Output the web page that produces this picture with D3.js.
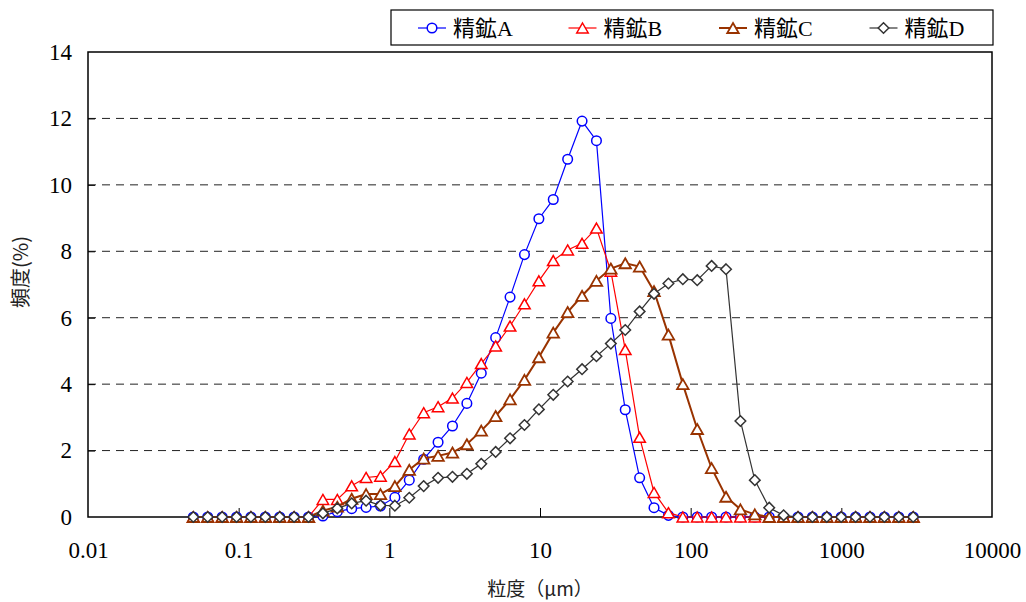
<!DOCTYPE html>
<html><head><meta charset="utf-8">
<script src="https://cdn.jsdelivr.net/npm/d3@7"></script>
<style>body{margin:0;background:#fff}svg{display:block}</style>
</head><body><svg id="c" width="1026" height="602"></svg>
<script>
// particle size classes (µm)
const sizes = [0.0500,0.0623,0.0777,0.0968,0.1206,0.1503,0.1873,0.2333,0.2907,0.3623,
0.4515,0.5626,0.7010,0.8735,1.0885,1.3564,1.6902,2.1062,2.6244,3.2704,
4.0753,5.0783,6.3281,7.8856,9.8283,12.246,15.260,19.016,23.696,29.527,
36.793,45.848,57.132,71.193,88.714,110.55,137.75,171.65,213.90,266.54,
332.14,413.88,515.74,642.67,800.84,997.93,1243.5,1549.6,1931.0,2406.3,3000];
const seriesNames = ["精鉱A","精鉱B","精鉱C","精鉱D"];
const valuesA = [0,0,0,0,0,0,0,0,0,0.03,0.16,0.25,0.29,0.33,0.59,1.11,1.74,2.25,2.74,3.42,
4.33,5.40,6.62,7.90,8.98,9.56,10.77,11.92,11.33,5.98,3.23,1.18,0.28,0.05,0,0,0,0,0,0,
0,0,0,0,0,0,0,0,0,0,0];
const valuesB = [0,0,0,0,0,0,0,0,0,0.53,0.53,0.94,1.19,1.23,1.67,2.50,3.14,3.32,3.58,4.05,
4.62,5.15,5.75,6.42,7.11,7.72,8.04,8.24,8.70,7.40,5.04,2.40,0.74,0.13,0,0,0,0,0,0,
0,0,0,0,0,0,0,0,0,0,0];
const valuesC = [0,0,0,0,0,0,0,0,0,0.19,0.31,0.55,0.69,0.69,0.93,1.42,1.76,1.84,1.94,2.19,
2.60,3.04,3.54,4.13,4.81,5.55,6.17,6.66,7.11,7.48,7.64,7.54,6.80,5.49,4.00,2.65,1.47,0.61,0.23,0.08,
0,0,0,0,0,0,0,0,0,0,0];
const valuesD = [0,0,0,0,0,0,0,0,0,0.11,0.26,0.41,0.49,0.35,0.34,0.58,0.93,1.18,1.21,1.30,
1.60,1.96,2.37,2.77,3.24,3.68,4.08,4.45,4.84,5.22,5.63,6.19,6.72,7.03,7.16,7.13,7.56,7.46,2.89,1.11,
0.28,0.05,0,0,0,0,0,0,0,0,0];
const xTicks = [0.01,0.1,1,10,100,1000,10000];
const xTickLabels = ["0.01","0.1","1","10","100","1000","10000"];
const yTicks = [0,2,4,6,8,10,12,14];
const xTitle = "粒度（μm）";
const yTitle = "頻度(%)";

const svg = d3.select("#c");
const L=88,R=992,T=52,B=517;
const x = d3.scaleLog().domain([0.01,10000]).range([L,R]);
const y = d3.scaleLinear().domain([0,14]).range([B,T]);
const numFont = "'Liberation Serif','Noto Sans CJK JP',serif";

// gridlines
svg.append("g").selectAll("line").data(yTicks.filter(v=>v>0&&v<14)).join("line")
  .attr("x1",L).attr("x2",R).attr("y1",d=>y(d)).attr("y2",d=>y(d))
  .attr("stroke","#222").attr("stroke-width",1).attr("stroke-dasharray","8,6");

// axes
const yAxis = d3.axisLeft(y).tickValues(yTicks).tickSize(-7).tickPadding(16).tickFormat(d3.format("d"));
const gy = svg.append("g").attr("transform",`translate(${L},0)`).call(yAxis);
const xAxis = d3.axisBottom(x).tickValues(xTicks).tickSize(-9).tickPadding(25)
  .tickFormat((d,i)=>xTickLabels[i]);
const gx = svg.append("g").attr("transform",`translate(0,${B})`).call(xAxis);
[gx,gy].forEach(g=>{
  g.select(".domain").remove();
  g.selectAll(".tick line").attr("stroke","#000").attr("stroke-width",1);
  g.selectAll("text").attr("font-family",numFont).attr("font-size",23).attr("fill","#000");
});
gx.selectAll(".tick line").filter(d=>d===0.01||d===10000).remove();
gy.selectAll(".tick line").filter(d=>d===0||d===14).remove();

// frame
svg.append("rect").attr("x",L).attr("y",T).attr("width",R-L).attr("height",B-T)
  .attr("fill","none").attr("stroke","#000").attr("stroke-width",1.5);

const series = [
  {name:seriesNames[0], vals:valuesA, color:"#0000ff", lw:1.2, sw:1.5, sym:"circle"},
  {name:seriesNames[1], vals:valuesB, color:"#ff0000", lw:1.2, sw:1.5, sym:"triangle"},
  {name:seriesNames[2], vals:valuesC, color:"#993300", lw:2, sw:1.8, sym:"triangle"},
  {name:seriesNames[3], vals:valuesD, color:"#333333", lw:1.2, sw:1.5, sym:"diamond"}
];
function drawMarker(g, s, cx, cy){
  if(s.sym==="circle"){
    g.append("circle").attr("cx",cx).attr("cy",cy).attr("r",4.8)
     .attr("fill","#fff").attr("stroke",s.color).attr("stroke-width",s.sw);
  } else if(s.sym==="triangle"){
    const h=10, w=11.5;
    g.append("path").attr("d",`M${cx},${cy-h/2}L${cx+w/2},${cy+h/2}L${cx-w/2},${cy+h/2}Z`)
     .attr("fill","#fff").attr("stroke",s.color).attr("stroke-width",s.sw);
  } else {
    const r=5.3;
    g.append("path").attr("d",`M${cx},${cy-r}L${cx+r},${cy}L${cx},${cy+r}L${cx-r},${cy}Z`)
     .attr("fill","#fff").attr("stroke",s.color).attr("stroke-width",s.sw);
  }
}
const line = d3.line().x((d,i)=>x(sizes[i])).y(d=>y(d));
series.forEach(s=>{
  const g = svg.append("g");
  g.append("path").datum(s.vals).attr("d",line).attr("fill","none")
    .attr("stroke",s.color).attr("stroke-width",s.lw);
  s.vals.forEach((v,i)=>drawMarker(g,s,x(sizes[i]),y(v)));
});

// legend
svg.append("rect").attr("x",391).attr("y",10).attr("width",602).attr("height",35)
  .attr("fill","#fff").attr("stroke","#000").attr("stroke-width",1.2);
series.forEach((s,i)=>{
  const x0 = 418 + i*150.5, cy = 28;
  const g = svg.append("g");
  g.append("line").attr("x1",x0).attr("x2",x0+28).attr("y1",cy).attr("y2",cy)
    .attr("stroke",s.color).attr("stroke-width",s.lw);
  drawMarker(g,s,x0+14,cy);
  g.append("text").attr("x",x0+35).attr("y",cy).attr("dy","0.36em")
    .attr("font-family",numFont).attr("font-size",22).text(s.name);
});

// titles
svg.append("text").attr("x",540).attr("y",589).attr("dy","0.36em").attr("text-anchor","middle")
  .attr("font-family","'Noto Sans CJK JP',sans-serif").attr("font-size",19).attr("fill","#222").text(xTitle);
svg.append("text").attr("transform","translate(21,272) rotate(-90)").attr("dy","0.36em")
  .attr("text-anchor","middle").attr("font-family","'Noto Sans CJK JP',sans-serif")
  .attr("font-size",20).attr("fill","#222").text(yTitle);
</script></body></html>
